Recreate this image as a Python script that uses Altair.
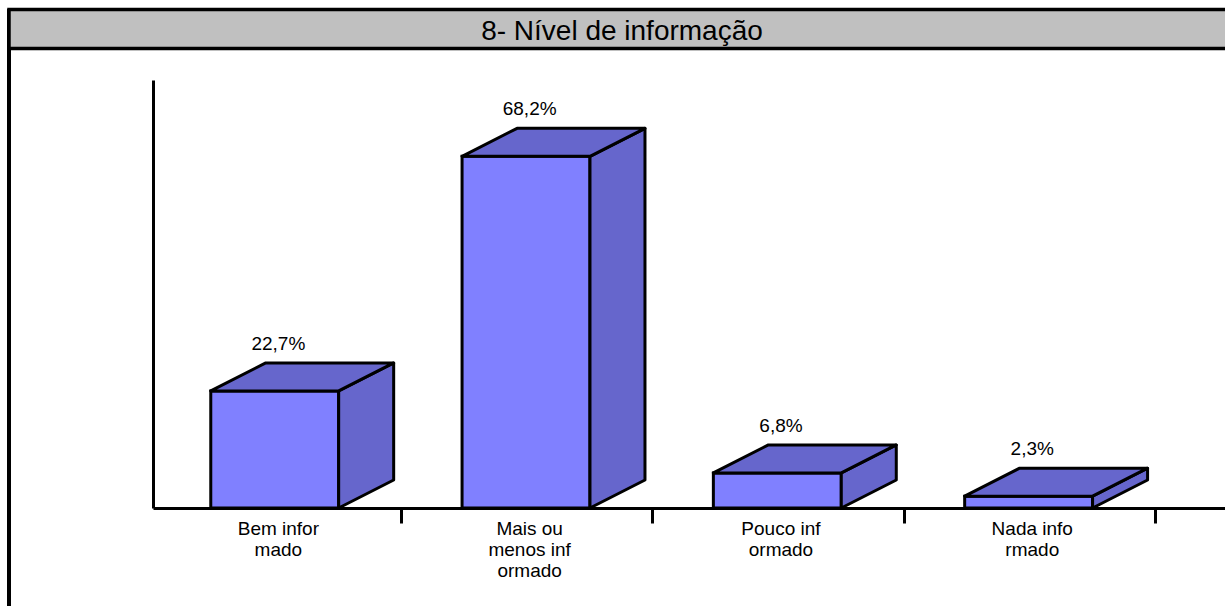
import altair as alt
import pandas as pd

# Survey answers and their shares (%)
categories = ["Bem infor\nmado", "Mais ou\nmenos inf\normado", "Pouco inf\normado", "Nada info\nrmado"]
values = [22.7, 68.2, 6.8, 2.3]
title_text = "8- Nível de informação"

# Layout (pixels)
LEFT, TOP, WIDTH, HEIGHT = 153, 80, 1072, 428
BAND_PX = 251.3                # width of one category slot
Y_MAX = 83                     # top of the value axis (%)
PX_PER_PCT = HEIGHT / Y_MAX
X_LO = 3.3 / BAND_PX           # slot 0 starts slightly left of the value axis
X_HI = X_LO + WIDTH / BAND_PX

# Front face position inside a slot, and the 3-D depth offset
FACE_A, FACE_B = 0.243, 0.752
DEPTH_X = 55 / BAND_PX
DEPTH_Y = 28 / PX_PER_PCT

FRONT = "#8080FF"
SHADE = "#6666CC"

front_rows, top_rows, side_rows, label_rows = [], [], [], []
for i, (cat, v) in enumerate(zip(categories, values)):
    front_rows.append({"bar": i, "x": i + FACE_A, "x2": i + FACE_B, "y": v, "y2": 0})
    top_rows.append({"bar": i, "y": v, "x": i + FACE_A, "x2": i + FACE_B})
    top_rows.append({"bar": i, "y": v + DEPTH_Y, "x": i + FACE_A + DEPTH_X, "x2": i + FACE_B + DEPTH_X})
    side_rows.append({"bar": i, "x": i + FACE_B, "y": 0, "y2": v})
    side_rows.append({"bar": i, "x": i + FACE_B + DEPTH_X, "y": DEPTH_Y, "y2": v + DEPTH_Y})
    label_rows.append({"cx": i + 0.512, "v": v,
                       "pct": f"{v:.1f}".replace(".", ",") + "%", "cat": cat})

front_df = pd.DataFrame(front_rows)
top_df = pd.DataFrame(top_rows)
side_df = pd.DataFrame(side_rows)
label_df = pd.DataFrame(label_rows)

xs = alt.Scale(domain=[X_LO, X_HI], nice=False, zero=False)
ys = alt.Scale(domain=[0, Y_MAX], nice=False)
FONT = "Liberation Sans"

x_axis = alt.Axis(values=[1, 2, 3, 4], labels=False, grid=False, title=None,
                  tickSize=15, tickWidth=3, tickColor="black",
                  domainWidth=3, domainColor="black")
y_axis = alt.Axis(labels=False, ticks=False, grid=False, title=None,
                  domainWidth=3, domainColor="black")

front = alt.Chart(front_df).mark_rect(fill=FRONT, stroke="black", strokeWidth=3).encode(
    x=alt.X("x:Q", scale=xs, axis=x_axis),
    x2="x2:Q",
    y=alt.Y("y:Q", scale=ys, axis=y_axis),
    y2="y2:Q",
)

top = alt.Chart(top_df).mark_area(orient="horizontal", fill=SHADE, fillOpacity=1,
                                  stroke="black", strokeWidth=3, strokeJoin="round").encode(
    y=alt.Y("y:Q", scale=ys, axis=y_axis),
    x=alt.X("x:Q", scale=xs, axis=x_axis, stack=False),
    x2="x2:Q",
    detail="bar:N",
)

side = alt.Chart(side_df).mark_area(orient="vertical", fill=SHADE, fillOpacity=1,
                                    stroke="black", strokeWidth=3, strokeJoin="round").encode(
    x=alt.X("x:Q", scale=xs, axis=x_axis),
    y=alt.Y("y:Q", scale=ys, axis=y_axis, stack=False),
    y2="y2:Q",
    detail="bar:N",
)

value_labels = alt.Chart(label_df).mark_text(
    font=FONT, fontSize=19, color="black", align="center", baseline="alphabetic", dy=-41
).encode(
    x=alt.X("cx:Q", scale=xs, axis=x_axis),
    y=alt.Y("v:Q", scale=ys, axis=y_axis),
    text="pct:N",
)

cat_labels = alt.Chart(label_df).mark_text(
    font=FONT, fontSize=19, color="black", align="center", baseline="alphabetic",
    dy=27, lineBreak="\n", lineHeight=21
).encode(
    x=alt.X("cx:Q", scale=xs, axis=x_axis),
    y=alt.datum(0, scale=ys, axis=y_axis),
    text="cat:N",
)

# Title band and left frame line
title_df = pd.DataFrame({"t": [title_text]})
title_bar = alt.Chart(title_df).mark_rect(fill="#C0C0C0", stroke="black", strokeWidth=3.5).encode(
    x=alt.value(-144), x2=alt.value(WIDTH + 20),
    y=alt.value(-70.5), y2=alt.value(-31.5),
)
title_mark = alt.Chart(title_df).mark_text(
    font=FONT, fontSize=28, color="black", align="center", baseline="alphabetic"
).encode(
    x=alt.value(622 - LEFT), y=alt.value(-40), text="t:N",
)
frame_line = alt.Chart(title_df).mark_rule(color="black", strokeWidth=4).encode(
    x=alt.value(-144), y=alt.value(-71), y2=alt.value(HEIGHT + 120),
)

chart = alt.layer(
    frame_line, title_bar, title_mark, front, side, top, value_labels, cat_labels
).properties(
    width=WIDTH, height=HEIGHT,
    autosize=alt.AutoSizeParams(type="none"),
    padding={"left": LEFT, "top": TOP, "right": 0, "bottom": 606 - TOP - HEIGHT},
    background="white",
).configure_view(stroke=None)

chart.save("out.html", embed_options={"renderer": "svg", "actions": False})
